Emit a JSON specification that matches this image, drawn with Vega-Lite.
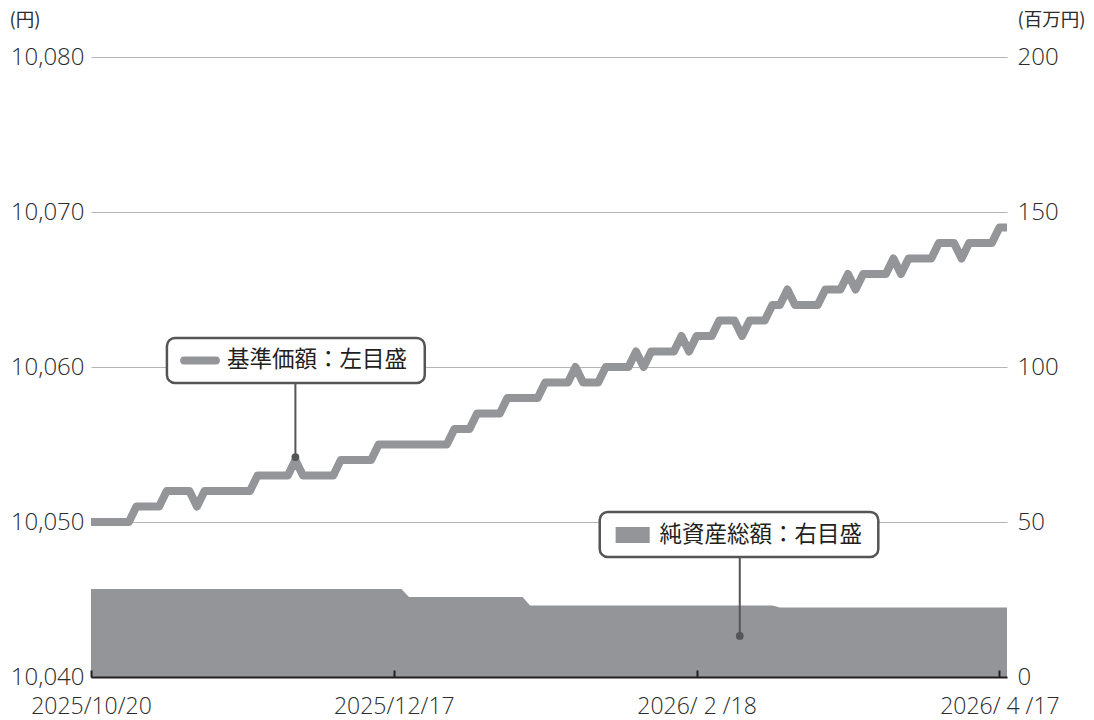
{
  "$schema": "https://vega.github.io/schema/vega-lite/v6.json",
  "width": 916,
  "height": 620,
  "autosize": {"type": "none"},
  "padding": {"left": 91, "top": 57, "right": 87, "bottom": 43},
  "background": "white",
  "config": {
    "view": {"stroke": null},
    "font": "Noto Sans CJK JP",
    "axis": {"labelFont": "Open Sans", "labelFontWeight": 300, "titleFont": "Noto Sans CJK JP", "labelColor": "#2b2b2b", "titleColor": "#2b2b2b", "labelFlush": false, "labelOverlap": false}
  },
  "datasets": {
    "fund": [
      {"i":0,"nav":10050,"aum":28.4},{"i":1,"nav":10050,"aum":28.4},{"i":2,"nav":10050,"aum":28.4},{"i":3,"nav":10050,"aum":28.4},{"i":4,"nav":10050,"aum":28.4},{"i":5,"nav":10050,"aum":28.4},
      {"i":6,"nav":10051,"aum":28.4},{"i":7,"nav":10051,"aum":28.4},{"i":8,"nav":10051,"aum":28.4},{"i":9,"nav":10051,"aum":28.4},
      {"i":10,"nav":10052,"aum":28.4},{"i":11,"nav":10052,"aum":28.4},{"i":12,"nav":10052,"aum":28.4},{"i":13,"nav":10052,"aum":28.4},
      {"i":14,"nav":10051,"aum":28.4},
      {"i":15,"nav":10052,"aum":28.4},{"i":16,"nav":10052,"aum":28.4},{"i":17,"nav":10052,"aum":28.4},{"i":18,"nav":10052,"aum":28.4},{"i":19,"nav":10052,"aum":28.4},{"i":20,"nav":10052,"aum":28.4},{"i":21,"nav":10052,"aum":28.4},
      {"i":22,"nav":10053,"aum":28.4},{"i":23,"nav":10053,"aum":28.4},{"i":24,"nav":10053,"aum":28.4},{"i":25,"nav":10053,"aum":28.4},{"i":26,"nav":10053,"aum":28.4},
      {"i":27,"nav":10054,"aum":28.4},
      {"i":28,"nav":10053,"aum":28.4},{"i":29,"nav":10053,"aum":28.4},{"i":30,"nav":10053,"aum":28.4},{"i":31,"nav":10053,"aum":28.4},{"i":32,"nav":10053,"aum":28.4},
      {"i":33,"nav":10054,"aum":28.4},{"i":34,"nav":10054,"aum":28.4},{"i":35,"nav":10054,"aum":28.4},{"i":36,"nav":10054,"aum":28.4},{"i":37,"nav":10054,"aum":28.4},
      {"i":38,"nav":10055,"aum":28.4},{"i":39,"nav":10055,"aum":28.4},{"i":40,"nav":10055,"aum":28.4},{"i":41,"nav":10055,"aum":28.4},{"i":42,"nav":10055,"aum":25.8},{"i":43,"nav":10055,"aum":25.8},{"i":44,"nav":10055,"aum":25.8},{"i":45,"nav":10055,"aum":25.8},{"i":46,"nav":10055,"aum":25.8},{"i":47,"nav":10055,"aum":25.8},
      {"i":48,"nav":10056,"aum":25.8},{"i":49,"nav":10056,"aum":25.8},{"i":50,"nav":10056,"aum":25.8},
      {"i":51,"nav":10057,"aum":25.8},{"i":52,"nav":10057,"aum":25.8},{"i":53,"nav":10057,"aum":25.8},{"i":54,"nav":10057,"aum":25.8},
      {"i":55,"nav":10058,"aum":25.8},{"i":56,"nav":10058,"aum":25.8},{"i":57,"nav":10058,"aum":25.8},{"i":58,"nav":10058,"aum":23.1},{"i":59,"nav":10058,"aum":23.1},
      {"i":60,"nav":10059,"aum":23.1},{"i":61,"nav":10059,"aum":23.1},{"i":62,"nav":10059,"aum":23.1},{"i":63,"nav":10059,"aum":23.1},
      {"i":64,"nav":10060,"aum":23.1},
      {"i":65,"nav":10059,"aum":23.1},{"i":66,"nav":10059,"aum":23.1},{"i":67,"nav":10059,"aum":23.1},
      {"i":68,"nav":10060,"aum":23.1},{"i":69,"nav":10060,"aum":23.1},{"i":70,"nav":10060,"aum":23.1},{"i":71,"nav":10060,"aum":23.1},
      {"i":72,"nav":10061,"aum":23.1},
      {"i":73,"nav":10060,"aum":23.1},
      {"i":74,"nav":10061,"aum":23.1},{"i":75,"nav":10061,"aum":23.1},{"i":76,"nav":10061,"aum":23.1},{"i":77,"nav":10061,"aum":23.1},
      {"i":78,"nav":10062,"aum":23.1},
      {"i":79,"nav":10061,"aum":23.1},
      {"i":80,"nav":10062,"aum":23.1},{"i":81,"nav":10062,"aum":23.1},{"i":82,"nav":10062,"aum":23.1},
      {"i":83,"nav":10063,"aum":23.1},{"i":84,"nav":10063,"aum":23.1},{"i":85,"nav":10063,"aum":23.1},
      {"i":86,"nav":10062,"aum":23.1},
      {"i":87,"nav":10063,"aum":23.1},{"i":88,"nav":10063,"aum":23.1},{"i":89,"nav":10063,"aum":23.1},
      {"i":90,"nav":10064,"aum":23.1},{"i":91,"nav":10064,"aum":22.4},
      {"i":92,"nav":10065,"aum":22.4},
      {"i":93,"nav":10064,"aum":22.4},{"i":94,"nav":10064,"aum":22.4},{"i":95,"nav":10064,"aum":22.4},{"i":96,"nav":10064,"aum":22.4},
      {"i":97,"nav":10065,"aum":22.4},{"i":98,"nav":10065,"aum":22.4},{"i":99,"nav":10065,"aum":22.4},
      {"i":100,"nav":10066,"aum":22.4},
      {"i":101,"nav":10065,"aum":22.4},
      {"i":102,"nav":10066,"aum":22.4},{"i":103,"nav":10066,"aum":22.4},{"i":104,"nav":10066,"aum":22.4},{"i":105,"nav":10066,"aum":22.4},
      {"i":106,"nav":10067,"aum":22.4},
      {"i":107,"nav":10066,"aum":22.4},
      {"i":108,"nav":10067,"aum":22.4},{"i":109,"nav":10067,"aum":22.4},{"i":110,"nav":10067,"aum":22.4},{"i":111,"nav":10067,"aum":22.4},
      {"i":112,"nav":10068,"aum":22.4},{"i":113,"nav":10068,"aum":22.4},{"i":114,"nav":10068,"aum":22.4},
      {"i":115,"nav":10067,"aum":22.4},
      {"i":116,"nav":10068,"aum":22.4},{"i":117,"nav":10068,"aum":22.4},{"i":118,"nav":10068,"aum":22.4},{"i":119,"nav":10068,"aum":22.4},
      {"i":120,"nav":10069,"aum":22.4},{"i":121,"nav":10069,"aum":22.4}
    ]
  },
  "layer": [
    {
      "data": {"name": "fund"},
      "mark": {"type": "area", "color": "#939598"},
      "encoding": {
        "x": {
          "field": "i", "type": "quantitative",
          "scale": {"domain": [0, 121], "nice": false, "zero": false},
          "axis": {
            "title": null, "values": [0, 40, 80, 120], "grid": false, "zindex": 2,
            "labelExpr": "datum.value == 0 ? '2025/10/20' : datum.value == 40 ? '2025/12/17' : datum.value == 80 ? '2026/ 2 /18' : '2026/ 4 /17'",
            "domain": true, "domainColor": "#231f20", "domainWidth": 2,
            "ticks": true, "tickColor": "#231f20", "tickWidth": 2, "tickSize": -7,
            "labelFontSize": 23, "labelPadding": 25
          }
        },
        "y": {
          "field": "aum", "type": "quantitative",
          "scale": {"domain": [0, 200], "nice": false},
          "axis": {
            "orient": "right", "values": [0, 50, 100, 150, 200], "grid": false, "domain": false, "ticks": false,
            "labelFontSize": 24, "labelPadding": 10, "labelBaseline": "middle",
            "title": "(百万円)", "titleAngle": 0, "titleAlign": "left", "titleBaseline": "middle",
            "titleX": 10, "titleY": -38, "titleFontSize": 18.5, "titleFontWeight": "normal"
          }
        }
      }
    },
    {
      "layer": [
        {
          "data": {"name": "fund"},
          "mark": {"type": "line", "color": "#939598", "strokeWidth": 8, "strokeJoin": "round", "strokeCap": "butt"},
          "encoding": {
            "x": {"field": "i", "type": "quantitative", "scale": {"domain": [0, 121], "nice": false, "zero": false}},
            "y": {
              "field": "nav", "type": "quantitative",
              "scale": {"domain": [10040, 10080], "nice": false, "zero": false},
              "axis": {
                "orient": "left", "values": [10040, 10050, 10060, 10070, 10080], "format": ",d",
                "grid": true, "gridColor": "#b5b5b5", "gridWidth": 1,
                "domain": false, "ticks": false,
                "labelFontSize": 24, "labelPadding": 7, "labelBaseline": "middle",
                "title": "(円)", "titleAngle": 0, "titleAlign": "left", "titleBaseline": "middle",
                "titleX": -82, "titleY": -38, "titleFontSize": 18.5, "titleFontWeight": "normal"
              }
            }
          }
        },
        {
          "data": {"values": [{}]},
          "mark": {"type": "rule", "color": "#555555", "strokeWidth": 2},
          "encoding": {
            "x": {"datum": 27, "type": "quantitative"},
            "y": {"datum": 10058.97, "type": "quantitative"},
            "y2": {"datum": 10054.19}
          }
        },
        {
          "data": {"values": [{}]},
          "mark": {"type": "point", "filled": true, "color": "#555555", "size": 60, "opacity": 1},
          "encoding": {
            "x": {"datum": 27, "type": "quantitative"},
            "y": {"datum": 10054.19, "type": "quantitative"}
          }
        },
        {
          "data": {"values": [{}]},
          "mark": {"type": "rule", "color": "#555555", "strokeWidth": 2},
          "encoding": {
            "x": {"datum": 85.7, "type": "quantitative"},
            "y": {"datum": 10047.74, "type": "quantitative"},
            "y2": {"datum": 10042.65}
          }
        },
        {
          "data": {"values": [{}]},
          "mark": {"type": "point", "filled": true, "color": "#555555", "size": 60, "opacity": 1},
          "encoding": {
            "x": {"datum": 85.7, "type": "quantitative"},
            "y": {"datum": 10042.65, "type": "quantitative"}
          }
        },
        {
          "data": {"values": [{}]},
          "mark": {"type": "rect", "fill": "white", "stroke": "#555555", "strokeWidth": 2.5, "cornerRadius": 8},
          "encoding": {
            "x": {"datum": 10.03, "type": "quantitative"},
            "x2": {"datum": 44.09},
            "y": {"datum": 10061.87, "type": "quantitative"},
            "y2": {"datum": 10058.97}
          }
        },
        {
          "data": {"values": [{}]},
          "mark": {"type": "rect", "fill": "white", "stroke": "#555555", "strokeWidth": 2.5, "cornerRadius": 8},
          "encoding": {
            "x": {"datum": 67.2, "type": "quantitative"},
            "x2": {"datum": 104.0},
            "y": {"datum": 10050.65, "type": "quantitative"},
            "y2": {"datum": 10047.74}
          }
        },
        {
          "data": {"values": [{}]},
          "mark": {"type": "rule", "color": "#939598", "strokeWidth": 8, "strokeCap": "round"},
          "encoding": {
            "x": {"datum": 12.3, "type": "quantitative"},
            "x2": {"datum": 16.5},
            "y": {"datum": 10060.42, "type": "quantitative"}
          }
        },
        {
          "data": {"values": [{}]},
          "mark": {"type": "rect", "fill": "#939598"},
          "encoding": {
            "x": {"datum": 69.3, "type": "quantitative"},
            "x2": {"datum": 73.8},
            "y": {"datum": 10049.68, "type": "quantitative"},
            "y2": {"datum": 10048.65}
          }
        },
        {
          "data": {"values": [{}]},
          "mark": {"type": "text", "text": "基準価額：左目盛", "align": "left", "baseline": "middle", "fontSize": 22.5, "color": "#231f20", "font": "Noto Sans CJK JP"},
          "encoding": {
            "x": {"datum": 17.95, "type": "quantitative"},
            "y": {"datum": 10060.42, "type": "quantitative"}
          }
        },
        {
          "data": {"values": [{}]},
          "mark": {"type": "text", "text": "純資産総額：右目盛", "align": "left", "baseline": "middle", "fontSize": 22.5, "color": "#231f20", "font": "Noto Sans CJK JP"},
          "encoding": {
            "x": {"datum": 75.1, "type": "quantitative"},
            "y": {"datum": 10049.19, "type": "quantitative"}
          }
        }
      ]
    }
  ],
  "resolve": {"scale": {"y": "independent"}, "axis": {"y": "independent"}}
}
